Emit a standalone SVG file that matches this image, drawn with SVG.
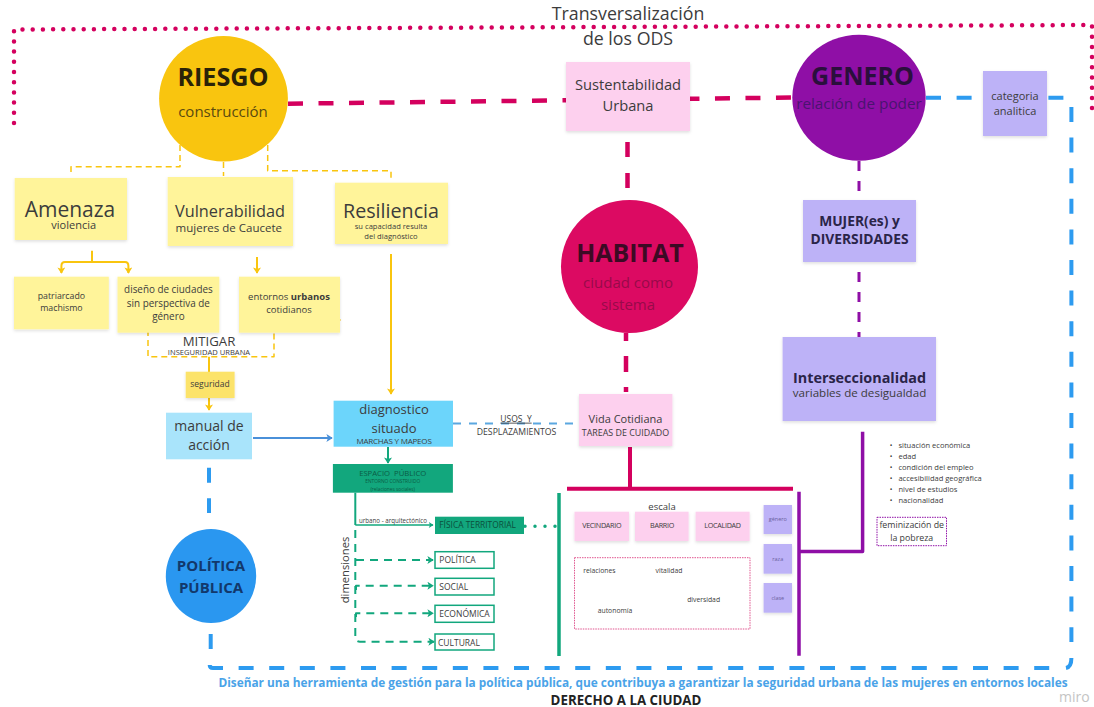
<svg xmlns="http://www.w3.org/2000/svg" width="1094" height="707" viewBox="0 0 1094 707">
<style>
text{font-family:"Open Sans","Liberation Sans",sans-serif;text-anchor:middle;fill:#3c3c3c}
.b{font-weight:700}
.l{text-anchor:start}
.y{fill:#fff49a;filter:url(#s)}
.p{fill:#fdd0ee;filter:url(#s)}
.v{fill:#bdb2f7;filter:url(#s)}
.c{fill:none;stroke-linecap:butt;stroke-linejoin:round}
.pk{stroke:#d4005e}
.bl{stroke:#2d9bf0;stroke-width:4;stroke-dasharray:15 15.6}
.or{stroke:#f9c50f}
.od{stroke:#f9c50f;stroke-width:1.5;stroke-dasharray:6 4}
.pu{stroke:#8f0fa6}
.gr{stroke:#12a77d}
.gd{stroke:#12a77d;stroke-width:2;stroke-dasharray:8 6}
.box{fill:#fff;stroke:#12a77d;stroke-width:1.5}
.sm{font-size:7.55px;text-anchor:start}
</style>
<defs>
<filter id="s" x="-10%" y="-10%" width="120%" height="125%"><feDropShadow dx="0" dy="1.5" stdDeviation="1.5" flood-color="#000" flood-opacity=".13"/></filter>
<marker id="ao" viewBox="0 0 10 10" refX="8" refY="5" markerWidth="4" markerHeight="4" orient="auto" markerUnits="strokeWidth"><path d="M1 0L9 5L1 10L3 5Z" fill="#f9c50f"/></marker>
<marker id="ag" viewBox="0 0 10 10" refX="8" refY="5" markerWidth="4" markerHeight="4" orient="auto" markerUnits="strokeWidth"><path d="M1 0L9 5L1 10L3 5Z" fill="#12a77d"/></marker>
<marker id="ab" viewBox="0 0 10 10" refX="8" refY="5" markerWidth="4" markerHeight="4" orient="auto" markerUnits="strokeWidth"><path d="M1 0L9 5L1 10L3 5Z" fill="#4a90d9"/></marker>
</defs>

<g id="connectors">
<path class="c" d="M14 123V29.5L1092 25V110" stroke="#d4005e" stroke-width="4.5" stroke-dasharray="0 10.2" style="stroke-linecap:round"/>
<path class="c pk" d="M288 103.7L793 97.5" stroke-width="4.5" stroke-dasharray="15 15.5"/>
<path class="c pk" d="M627.5 142V188" stroke-width="4.5" stroke-dasharray="15 16"/>
<path class="c pk" d="M626 333V392" stroke-width="4.5" stroke-dasharray="8 15 16 15 5"/>
<path class="c pk" d="M630 447V488M567 488.7H793" stroke-width="4"/>
<path class="c bl" d="M926 97.7H1064"/>
<path class="c bl" d="M1071.4 107V642"/>
<path class="c" stroke="#2d9bf0" stroke-width="4" d="M1071.4 658Q1071.4 667 1066 668"/>
<path class="c bl" d="M209.7 665Q209.7 668 213 668H1052"/>
<path class="c bl" d="M209 467.7V513"/>
<path class="c bl" d="M210.7 634V649"/>
<path class="c pu" d="M859 161V192M859 272V337" stroke-width="3" stroke-dasharray="10 10"/>
<path class="c pu" d="M862.6 431.7V551.5H799M799 491.7V655.7" stroke-width="3.5"/>
<path class="c gr" d="M559 493V656" stroke-width="3.5"/>
<path class="c" d="M525 526.3H559" stroke="#12a77d" stroke-width="3.5" stroke-dasharray="0 10" style="stroke-linecap:round"/>
<path class="c" d="M453 423.5H579" stroke="#5ba7e0" stroke-width="2" stroke-dasharray="8 8"/>
<path class="c od" d="M180 145V166.7H71V175M223.5 162V176M267.7 145V170.7H391V179"/>
<path class="c od" d="M118 320H148V356.7H274V320H341"/>
<path class="c or" d="M92 250.7V262" stroke-width="2"/>
<path class="c or" d="M92 262H65Q61.4 262 61.4 266V273" stroke-width="2" marker-end="url(#ao)"/>
<path class="c or" d="M92 262H125Q128.4 262 128.4 266V273" stroke-width="2" marker-end="url(#ao)"/>
<path class="c or" d="M257 257V273" stroke-width="2" marker-end="url(#ao)"/>
<path class="c or" d="M391 254V394" stroke-width="2" marker-end="url(#ao)"/>
<path class="c or" d="M209 356.7V372" stroke-width="2"/>
<path class="c or" d="M209 398V410" stroke-width="2" marker-end="url(#ao)"/>
<path class="c" d="M253 438H332" stroke="#4a90d9" stroke-width="2" marker-end="url(#ab)"/>
<path class="c gr" d="M388 447V463" stroke-width="2" marker-end="url(#ag)"/>
<path class="c gr" d="M355.3 492.7V525" stroke-width="2"/>
<path class="c gr" d="M355.3 525H433" stroke-width="1.5" marker-end="url(#ag)"/>
<path class="c gd" d="M355.3 530V637Q355.3 641.7 360 641.7H434" marker-end="url(#ag)"/>
<path class="c gd" d="M356 560H433" marker-end="url(#ag)"/>
<path class="c gd" d="M356 590V585.7H433" marker-end="url(#ag)"/>
<path class="c gd" d="M356 617V613.3H433" marker-end="url(#ag)"/>
</g>

<g id="titulo"><text x="628" y="20" font-size="17.8">Transversalización</text><text x="628" y="45" font-size="17.8">de los ODS</text></g>

<g id="riesgo"><ellipse cx="223.5" cy="98.7" rx="64.4" ry="62.7" fill="#f9c50f"/><text x="223" y="86" font-size="25.2" class="b" style="fill:#2a2208">RIESGO</text><text x="223" y="116.7" font-size="15" style="fill:#5a4a10">construcción</text></g>
<g id="sustentabilidad"><rect class="p" x="566" y="62" width="124" height="69"/><text x="628" y="90" font-size="14.7">Sustentabilidad</text><text x="628" y="111" font-size="14.7">Urbana</text></g>
<g id="genero"><ellipse cx="859" cy="97.7" rx="66.7" ry="63" fill="#8f0fa6"/><text x="862.5" y="85" font-size="25" class="b" style="fill:#2a0f3c">GENERO</text><text x="859" y="109" font-size="15.3" style="fill:#4a1470">relación de poder</text></g>
<g id="categoria"><rect class="v" x="983" y="71" width="64" height="65"/><text x="1015" y="100" font-size="11">categoria</text><text x="1015" y="115" font-size="11">analitica</text></g>
<g id="habitat"><ellipse cx="629.5" cy="266.5" rx="68.5" ry="66.5" fill="#dc0a62"/><text x="630" y="262" font-size="25" class="b" style="fill:#3c0a24">HABITAT</text><text x="628" y="288" font-size="15" style="fill:#980a4a">ciudad como</text><text x="628" y="310" font-size="15" style="fill:#980a4a">sistema</text></g>
<g id="mujer"><rect class="v" x="803" y="200" width="113" height="62"/><text x="859.5" y="226" font-size="13.8" class="b" style="fill:#2a2448">MUJER(es) y</text><text x="859.5" y="244" font-size="13.8" class="b" style="fill:#2a2448">DIVERSIDADES</text></g>
<g id="interseccionalidad"><rect class="v" x="782.6" y="337" width="153.4" height="84"/><text x="859.5" y="382.7" font-size="14.4" class="b" style="fill:#2a2448">Interseccionalidad</text><text x="859.5" y="396.7" font-size="11.6">variables de desigualdad</text></g>

<g id="amenaza"><rect class="y" x="14.7" y="178" width="112.3" height="62"/><text x="70" y="216.7" font-size="21">Amenaza</text><text x="73.7" y="229" font-size="11">violencia</text></g>
<g id="vulnerabilidad"><rect class="y" x="167.7" y="177" width="125.3" height="69"/><text x="230" y="216.7" font-size="16.3">Vulnerabilidad</text><text x="228.8" y="232" font-size="11.5">mujeres de Caucete</text></g>
<g id="resiliencia"><rect class="y" x="335" y="182.7" width="113" height="61.3"/><text x="391" y="218" font-size="19.7">Resiliencia</text><text x="391" y="228.7" font-size="7.6">su capacidad resulta</text><text x="391" y="239" font-size="7.6">del diagnóstico</text></g>
<g id="patriarcado"><rect class="y" x="14" y="276.7" width="94.8" height="52.6"/><text x="61.4" y="299" font-size="8.8">patriarcado</text><text x="61.4" y="311" font-size="8.8">machismo</text></g>
<g id="diseno"><rect class="y" x="117.5" y="276.7" width="101.8" height="56"/><text x="168.4" y="293" font-size="9.9">diseño de ciudades</text><text x="168.4" y="306.7" font-size="9.9">sin perspectiva de</text><text x="168.4" y="320" font-size="9.9">género</text></g>
<g id="entornos"><rect class="y" x="239" y="276.7" width="101" height="56"/><text x="289" y="300" font-size="9.5">entornos <tspan class="b">urbanos</tspan></text><text x="289" y="313" font-size="9.5">cotidianos</text></g>
<g id="mitigar"><text x="209" y="345.5" font-size="13.2">MITIGAR</text><text x="209" y="354.5" font-size="7.6">INSEGURIDAD URBANA</text></g>
<g id="seguridad"><rect x="185.7" y="371.7" width="48.9" height="26.3" fill="#fce36b" filter="url(#s)"/><text x="210" y="387" font-size="8.5">seguridad</text></g>
<g id="manual"><rect x="166" y="412.7" width="86" height="46.6" fill="#a9e4fb"/><text x="209" y="430.7" font-size="14">manual de</text><text x="209" y="450" font-size="14">acción</text></g>
<g id="diagnostico"><rect x="333.6" y="400.7" width="119.4" height="46" fill="#6cd5fb"/><text x="394" y="414" font-size="13">diagnostico</text><text x="394" y="433" font-size="13">situado</text><text x="394" y="444" font-size="8" letter-spacing="-.2">MARCHAS Y MAPEOS</text></g>
<g id="usos"><text x="516" y="421.7" font-size="8.5" style="text-decoration:underline" xml:space="preserve">USOS  Y</text><text x="516.5" y="435" font-size="8.7">DESPLAZAMIENTOS</text></g>
<g id="vida"><rect class="p" x="579" y="394" width="93.4" height="52"/><text x="625.5" y="423" font-size="11">Vida Cotidiana</text><text x="625.5" y="436" font-size="8.9">TAREAS DE CUIDADO</text></g>
<g id="politica-publica"><ellipse cx="211" cy="576" rx="45.2" ry="47" fill="#2a97f0"/><text x="211" y="571" font-size="15" class="b" style="fill:#12386b">POLÍTICA</text><text x="211" y="592.7" font-size="15" class="b" style="fill:#12386b">PÚBLICA</text></g>
<g id="espacio"><rect x="332.9" y="464" width="120" height="28.7" fill="#12a77d"/><text x="392.7" y="475.7" font-size="7.7" xml:space="preserve" style="fill:#0b5c46">ESPACIO  PÚBLICO</text><text x="392.7" y="483.3" font-size="4.8" style="fill:#0b5c46">ENTORNO CONSTRUIDO</text><text x="392.7" y="490.7" font-size="4.8" style="fill:#0b5c46">(relaciones sociales)</text></g>
<g id="urbano"><text x="393" y="522.7" font-size="6.2">urbano - arquitectónico</text></g>
<g id="fisica"><rect x="435" y="516.7" width="89" height="17.3" fill="#12a77d"/><text class="l" x="439.3" y="528.3" font-size="8.4" style="fill:#0b4f3c">FÍSICA TERRITORIAL</text></g>
<g id="d-politica"><rect class="box" x="435" y="551.7" width="59" height="16.6"/><text class="l" x="439.3" y="562.7" font-size="8.5">POLÍTICA</text></g>
<g id="d-social"><rect class="box" x="435" y="578.3" width="59" height="16.7"/><text class="l" x="439.3" y="589.5" font-size="8.5">SOCIAL</text></g>
<g id="d-economica"><rect class="box" x="435" y="605.3" width="59" height="17"/><text class="l" x="439.3" y="616.7" font-size="8.5">ECONÓMICA</text></g>
<g id="d-cultural"><rect class="box" x="435" y="634" width="59" height="16"/><text class="l" x="438" y="645.5" font-size="8.5">CULTURAL</text></g>
<g id="dimensiones"><text transform="translate(349 570) rotate(-90)" font-size="11.2">dimensiones</text></g>

<g id="escala"><text x="662" y="509.7" font-size="9.5">escala</text></g>
<g id="vecindario"><rect class="p" x="574.5" y="511.7" width="54.5" height="29.3"/><text x="601.7" y="528" font-size="7.2" letter-spacing="-.3">VECINDARIO</text></g>
<g id="barrio"><rect class="p" x="635" y="511.7" width="53.6" height="29.3"/><text x="662" y="528" font-size="7.2" letter-spacing="-.3">BARRIO</text></g>
<g id="localidad"><rect class="p" x="695.6" y="511.7" width="54" height="29.3"/><text x="722.5" y="528" font-size="7.2" letter-spacing="-.3">LOCALIDAD</text></g>
<g id="c-genero"><rect class="v" x="763.6" y="505" width="28.4" height="29"/><text x="777.8" y="521" font-size="5.5" style="fill:#6a60a0">género</text></g>
<g id="c-raza"><rect class="v" x="763.6" y="544" width="28.4" height="29.7"/><text x="777.8" y="561" font-size="5.5" style="fill:#6a60a0">raza</text></g>
<g id="c-clase"><rect class="v" x="763.6" y="583" width="28.4" height="29.7"/><text x="777.8" y="600" font-size="5.5" style="fill:#6a60a0">clase</text></g>
<g id="relaciones-box"><rect x="574.5" y="557.7" width="175.5" height="71.3" fill="#fff" stroke="#e0558f" stroke-width="1" stroke-dasharray="1.5 1"/><text x="599.4" y="573" font-size="6.8">relaciones</text><text x="669" y="573" font-size="6.8">vitalidad</text><text x="703.6" y="602" font-size="6.8">diversidad</text><text x="615" y="612.5" font-size="6.8">autonomía</text></g>
<g id="variables"><text class="sm" x="898.4" y="448">situación económica</text><text class="sm" x="898.4" y="459">edad</text><text class="sm" x="898.4" y="469.6">condición del empleo</text><text class="sm" x="898.4" y="480.6">accesibilidad geográfica</text><text class="sm" x="898.4" y="491.5">nivel de estudios</text><text class="sm" x="898.4" y="502.5">nacionalidad</text>
<text x="891" y="448" font-size="7">•</text><text x="891" y="459" font-size="7">•</text><text x="891" y="469.6" font-size="7">•</text><text x="891" y="480.6" font-size="7">•</text><text x="891" y="491.5" font-size="7">•</text><text x="891" y="502.5" font-size="7">•</text></g>
<g id="feminizacion"><rect x="877" y="517.3" width="69.5" height="28.4" fill="#fff" stroke="#8f0fa6" stroke-width="1" stroke-dasharray="1.5 1"/><text x="911.7" y="528" font-size="8.8">feminización de</text><text x="911.7" y="540.5" font-size="8.8">la pobreza</text></g>

<g id="objetivo"><text x="643" y="686.7" font-size="11.83" class="b" style="fill:#4aa3e8">Diseñar una herramienta de gestión para la política pública, que contribuya a garantizar la seguridad urbana de las mujeres en entornos locales</text></g>
<g id="derecho"><text x="626" y="705" font-size="13.3" class="b" style="fill:#222">DERECHO A LA CIUDAD</text></g>
<g id="miro"><text class="l" x="1059" y="702" font-size="14" style="fill:#c4c4c4">miro</text></g>
</svg>
